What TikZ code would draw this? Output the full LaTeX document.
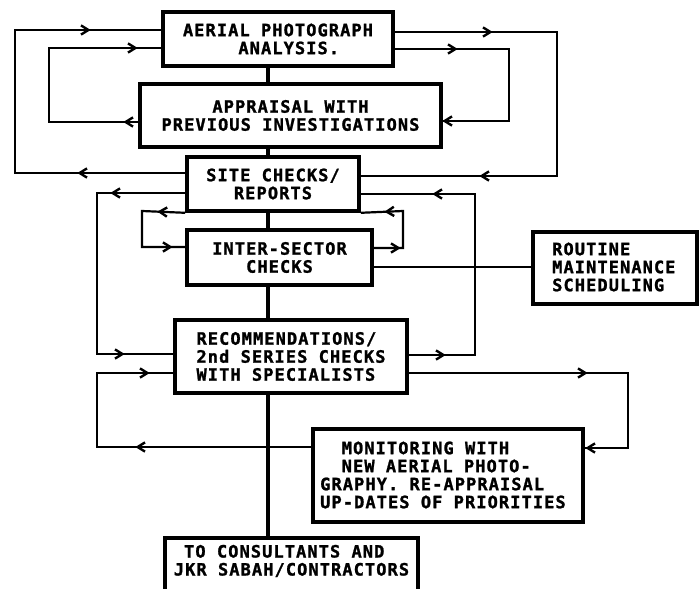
\documentclass[tikz,border=0pt]{standalone}
\usepackage{fontspec}
\newfontfamily\lerfont{DejaVu Sans Mono}[LetterSpace=6.3, BoldFeatures={FakeBold=1.3}]
\usetikzlibrary{decorations.markings}
\newcommand\chv{\draw[line width=2.4pt, line join=miter] (-3.8pt,4.6pt) -- (3.6pt,0pt) -- (-3.8pt,-4.6pt);}
\tikzset{
  txt/.style={inner sep=0pt, font=\lerfont\bfseries\fontsize{17pt}{18pt}\selectfont},
  box/.style={txt, draw, line width=3.6pt},
  conn/.style={line width=2.2pt, line join=miter},
  spine/.style={line width=3.2pt},
  marks/.style 2 args={decoration={markings,
      mark=at position #1pt with {\chv},
      mark=at position #2pt with {\chv}},
    postaction={decorate}}
}
\begin{document}
\begin{tikzpicture}[x=1pt, y=-1pt]
\useasboundingbox (0,0) rectangle (700,588);
\clip (0,0) rectangle (700,588);
\fill[white] (0,0) rectangle (700,588);

% boxes
\node[box, minimum width=230pt, minimum height=54pt, align=left] (A) at (278,39)
  {AERIAL PHOTOGRAPH\\\phantom{XXXXX}ANALYSIS.};
\node[box, minimum width=301pt, minimum height=63pt, align=center] (B) at (290.5,115.5)
  {APPRAISAL WITH\\PREVIOUS INVESTIGATIONS};
\node[box, minimum width=172pt, minimum height=54pt, align=center] (C) at (273,184)
  {SITE CHECKS/\\REPORTS};
\node[box, minimum width=185pt, minimum height=55pt, align=center] (D) at (279.5,257.5)
  {INTER-SECTOR\\CHECKS};
\node[box, minimum width=232pt, minimum height=73pt, align=left] (E) at (291,356.5)
  {RECOMMENDATIONS/\\2nd SERIES CHECKS\\WITH SPECIALISTS};
\node[box, minimum width=164pt, minimum height=72pt] (F) at (615,268) {};
\node[txt, align=left, anchor=west] (Ft) at (552,267)
  {ROUTINE\\MAINTENANCE\\SCHEDULING};
\node[box, minimum width=270pt, minimum height=93pt] (G) at (448,475.5) {};
\node[txt, align=left, anchor=west] (Gt) at (320,475)
  {\phantom{XX}MONITORING WITH\\\phantom{XX}NEW AERIAL PHOTO-\\GRAPHY. RE-APPRAISAL\\UP-DATES OF PRIORITIES};
\node[box, minimum width=253pt, minimum height=80pt, anchor=north] (H) at (291.5,536) {};
\node[txt, align=left] (Ht) at (291.5,561)
  {\phantom{X}TO CONSULTANTS AND\\JKR SABAH/CONTRACTORS};

% central spine
\draw[spine] (A.south -| 268,0) -- (B.north -| 268,0);
\draw[spine] (B.south -| 268,0) -- (C.north -| 268,0);
\draw[spine] (C.south -| 268,0) -- (D.north -| 268,0);
\draw[spine] (D.south -| 268,0) -- (E.north -| 268,0);
\draw[spine] (E.south -| 268,0) -- (H.north -| 268,0);

% feedback loops
\draw[conn, marks={102}{383}] (C.west |- 0,173) -- (15,173) -- (15,30) -- (A.west |- 0,30);
\draw[conn, marks={9}{246}] (B.west |- 0,122) -- (49,122) -- (49,48) -- (A.west |- 0,48);
\draw[conn, marks={92}{378}] (A.east |- 0,32) -- (557,32) -- (557,176) -- (C.east |- 0,176);
\draw[conn, marks={57}{247}] (A.east |- 0,49) -- (509,49) -- (509,121) -- (B.east |- 0,121);
\draw[conn, marks={69}{271}] (C.west |- 0,193) -- (97,193) -- (97,354) -- (E.west |- 0,354);
\draw[conn, marks={22}{104}] (C.south west) -- (142,211) -- (142,247) -- (D.west |- 0,247);
\draw[conn, marks={31}{264}] (E.east |- 0,355) -- (475,355) -- (475,194) -- (C.east |- 0,194);
\draw[conn, marks={21}{79}] (D.east |- 0,248) -- (403,248) -- (403,211) -- (C.south east);
\draw[conn, marks={170}{335}] (G.west |- 0,447) -- (97,447) -- (97,373) -- (E.west |- 0,373);
\draw[conn, marks={173}{331}] (E.east |- 0,373) -- (628,373) -- (628,448) -- (G.east |- 0,448);
\draw[conn] (D.east |- 0,267) -- (F.west |- 0,267);
\end{tikzpicture}
\end{document}
